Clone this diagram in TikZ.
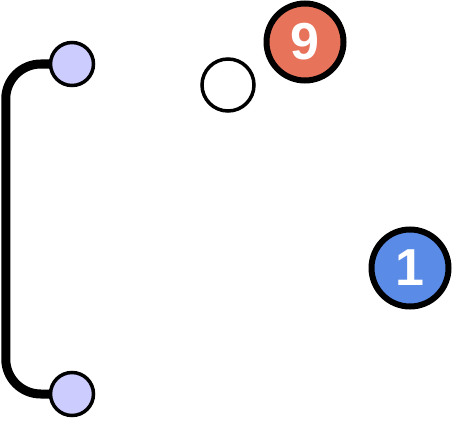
\documentclass[tikz,border=0pt]{standalone}
\usepackage{fontspec}
\setsansfont{Liberation Sans}
\definecolor{lavender}{HTML}{CCCCFF}
\definecolor{tomato}{HTML}{E8735B}
\definecolor{azure}{HTML}{5A8BE6}
\begin{document}
\begin{tikzpicture}[x=1pt, y=-1pt,
        dot/.style={circle, draw, line width=3.5pt, fill=lavender, minimum size=43pt, inner sep=0pt},
        badge/.style={circle, draw, line width=6pt, minimum size=77pt, inner sep=0pt, text=white,
            font=\sffamily\bfseries\fontsize{52}{52}\selectfont}]
        \useasboundingbox (0,0) rectangle (452,420);
        \node[dot] (top) at (72,64) {};
        \node[dot] (bot) at (72,394) {};
        \draw[line width=9pt, rounded corners=35pt] (top.west) -- ++(-43,0) |- (bot.west);
        \node[circle, draw, line width=3.5pt, fill=white, minimum size=52pt] (ring) at (228,85) {};
        \node[badge, fill=tomato] (nine) at (305,42) {9};
        \node[badge, fill=azure] (one) at (410,268) {1};
    \end{tikzpicture}
\end{document}
